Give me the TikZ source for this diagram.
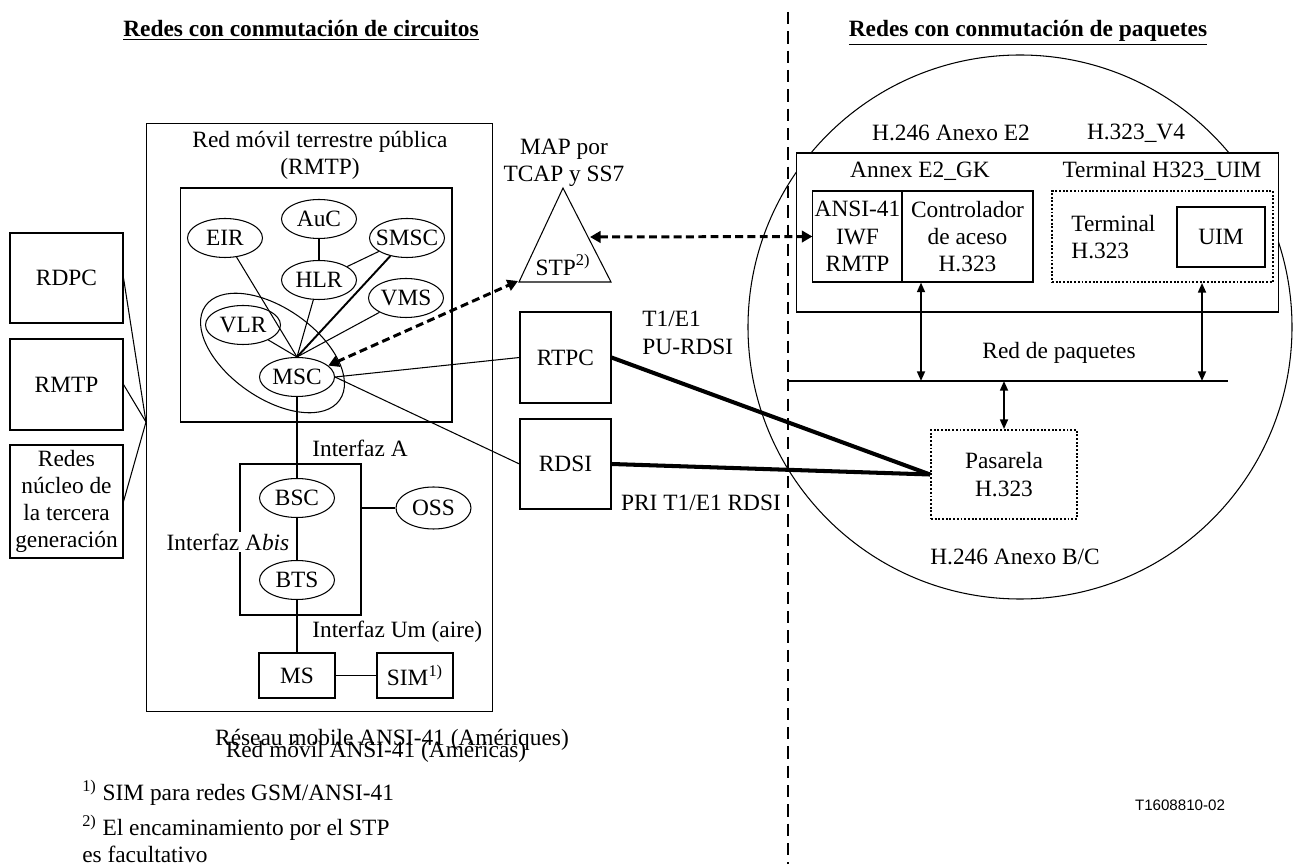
\documentclass[tikz,border=0pt]{standalone}
\usepackage{fontspec}
\setmainfont{Liberation Serif}
\setsansfont{Liberation Sans}
\usepackage{tikz}
\usetikzlibrary{positioning,arrows.meta,shapes.geometric}

\begin{document}
\begin{tikzpicture}[
  x=0.02cm, y=-0.02cm,
  line width=0.6pt,
  font=\fontsize{13.3}{15.5}\selectfont,
  box/.style={draw, rectangle, align=center, inner sep=1pt},
  dotbox/.style={box, densely dotted, line width=1.1pt},
  ent/.style={draw, ellipse, minimum width=1.5cm, minimum height=0.78cm, inner xsep=-4pt, inner ysep=0pt},
  trunk/.style={line width=2.3pt},
  sig/.style={line width=1.7pt, dash pattern=on 4.5pt off 2.5pt, {Triangle[length=6pt,width=6.5pt]}-{Triangle[length=6pt,width=6.5pt]}},
  dbl/.style={line width=1.1pt, {Triangle[length=5.5pt,width=4.5pt]}-{Triangle[length=5.5pt,width=4.5pt]}},
  lbl/.style={inner sep=1pt}
]
\useasboundingbox (0,0) rectangle (1309,864);

% Titles and split
\node[anchor=base] at (301,37) {\textbf{\underline{Redes con conmutación de circuitos}}};
\node[anchor=base] at (1028,37) {\textbf{\underline{Redes con conmutación de paquetes}}};
\draw[line width=1.2pt, dash pattern=on 7pt off 4pt] (788,12) -- (788,864);

% Other networks
\node[box, minimum width=2.26cm, minimum height=1.8cm] (rdpc) at (66.5,278) {RDPC};
\node[box, minimum width=2.26cm, minimum height=1.82cm] (rmtp) at (66.5,384.5) {RMTP};
\node[box, minimum width=2.26cm, minimum height=2.26cm] (core) at (66.5,501.5) {Redes\\núcleo de\\la tercera\\generación};

% PLMN
\node[box, minimum width=6.94cm, minimum height=11.78cm] (plmn) at (319.5,417.5) {};
\coordinate (hub) at (146,422);
\draw (rdpc.east) -- (hub);
\draw (rmtp.east) -- (hub);
\draw (core.east) -- (hub);
\node[align=center] at (320,155) {Red móvil terrestre pública\\(RMTP)};
\node[box, minimum width=5.44cm, minimum height=4.68cm] (nss) at (316,305) {};

\node[ent] (eir) at (225,238) {EIR};
\node[ent] (auc) at (319,219) {AuC};
\node[ent] (smsc) at (407,238) {SMSC};
\node[ent] (hlr) at (319,280) {HLR};
\node[ent] (vms) at (406,298) {VMS};
\node[ent] (vlr) at (243,325) {VLR};
\node[ent] (msc) at (297,377) {MSC};
\node[draw, ellipse, rotate=-35, minimum width=3.28cm, minimum height=1.8cm] (serv) at (272.5,353) {};

\draw (auc) -- (hlr);
\draw (hlr) -- (smsc);
\draw (eir) -- (msc.north);
\draw (hlr) -- (msc.north);
\draw[line width=1.1pt] (smsc) -- (msc.north);
\draw (vms) -- (msc.north);
\draw (vlr) -- (msc.north);

% Access part
\node[box, minimum width=2.42cm, minimum height=3.02cm] (bss) at (300.5,539.5) {};
\node[ent] (bsc) at (297,498) {BSC};
\node[ent] (bts) at (297,580) {BTS};
\node[ent, minimum height=0.84cm] (oss) at (433.5,508) {OSS};
\node[box, minimum width=1.52cm, minimum height=0.9cm] (ms) at (297,675.5) {MS};
\node[box, minimum width=1.52cm, minimum height=0.9cm] (sim) at (415,675.5) {SIM\textsuperscript{1)}};

\draw (msc) -- (bsc);
\draw (bsc) -- (bts);
\draw (bts) -- (ms);
\draw (ms) -- (sim);
\draw[line width=1.1pt] (bss.east |- oss) -- (oss);

\node[lbl, anchor=west] at (310,448) {Interfaz A};
\node[lbl, fill=white] at (228,542) {Interfaz A\textit{bis}};
\node[lbl, anchor=west] at (310,632) {Interfaz Um (aire)};

% STP
\draw (519,282) -- (563,188) -- (611,282) -- cycle;
\node (stp) at (563,265) {STP\textsuperscript{2)}};
\node[align=center] at (564,163) {MAP por\\TCAP y SS7};
\coordinate (stpL) at (518,281);
\coordinate (stpR) at (590,237);

% PSTN and ISDN
\node[box, minimum width=1.82cm, minimum height=1.82cm] (rtpc) at (565.5,357.5) {RTPC};
\node[box, minimum width=1.82cm, minimum height=1.8cm] (rdsi) at (565.5,464) {RDSI};
\draw (msc.east) -- (rtpc.west);
\draw (msc.east) -- (rdsi.west);
\node[align=left, anchor=west] at (636,333) {T1/E1\\PU-RDSI};
\node at (701,503) {PRI T1/E1 RDSI};

% Packet side
\draw (1020,327) circle[radius=272];
\node[box, fill=white, minimum width=9.66cm, minimum height=3.18cm] (h323) at (1037.5,232.5) {};
\node at (951,133) {H.246 Anexo E2};
\node at (1136,133) {H.323\_V4};
\node at (920,171) {Annex E2\_GK};
\node at (1162,171) {Terminal H323\_UIM};
\node[box, minimum width=1.78cm, minimum height=1.82cm] (iwf) at (857.5,236.5) {ANSI-41\\IWF\\RMTP};
\node[box, minimum width=2.62cm, minimum height=1.82cm] (gk) at (967.5,236.5) {Controlador\\de aceso\\H.323};
\node[dotbox, minimum width=4.42cm, minimum height=1.82cm] (term) at (1162.5,236.5) {};
\node[align=left, anchor=west] at (1065,237) {Terminal\\H.323};
\node[box, minimum width=1.76cm, minimum height=1.2cm] (uim) at (1221,237) {UIM};

\draw[sig] (msc.20) -- (stpL);
\draw[sig] (stpR) -- (iwf.west);

% Packet network
\coordinate (busL) at (788,381);
\coordinate (busR) at (1228,381);
\draw[line width=1.2pt] (busL) -- (busR);
\node at (1059,353) {Red de paquetes};
\coordinate (tapGK) at (921,381);
\coordinate (tapT) at (1202,381);
\coordinate (tapGW) at (1004,381);
\draw[dbl] (tapGK |- gk.south) -- (tapGK);
\draw[dbl] (tapT |- term.south) -- (tapT);
\node[dotbox, minimum width=2.92cm, minimum height=1.78cm] (gw) at (1004,474.5) {Pasarela\\H.323};
\draw[dbl] (tapGW) -- (gw.north);
\draw[trunk] (rtpc.east) -- (gw.west);
\draw[trunk] (rdsi.east) -- (gw.west);
\node at (1015,557) {H.246 Anexo B/C};

% Notes
\node at (392,740) {Réseau mobile ANSI-41 (Amériques)};
\node at (376,752) {Red móvil ANSI-41 (Américas)};
\node[lbl, anchor=west] at (80,793) {\textsuperscript{1)} SIM para redes GSM/ANSI-41};
\node[lbl, anchor=west] at (80,828) {\textsuperscript{2)} El encaminamiento por el STP};
\node[lbl, anchor=west] at (80,854) {es facultativo};
\node[font=\fontsize{8.6}{10}\sffamily\selectfont] at (1180,805) {T1608810-02};

\end{tikzpicture}
\end{document}
